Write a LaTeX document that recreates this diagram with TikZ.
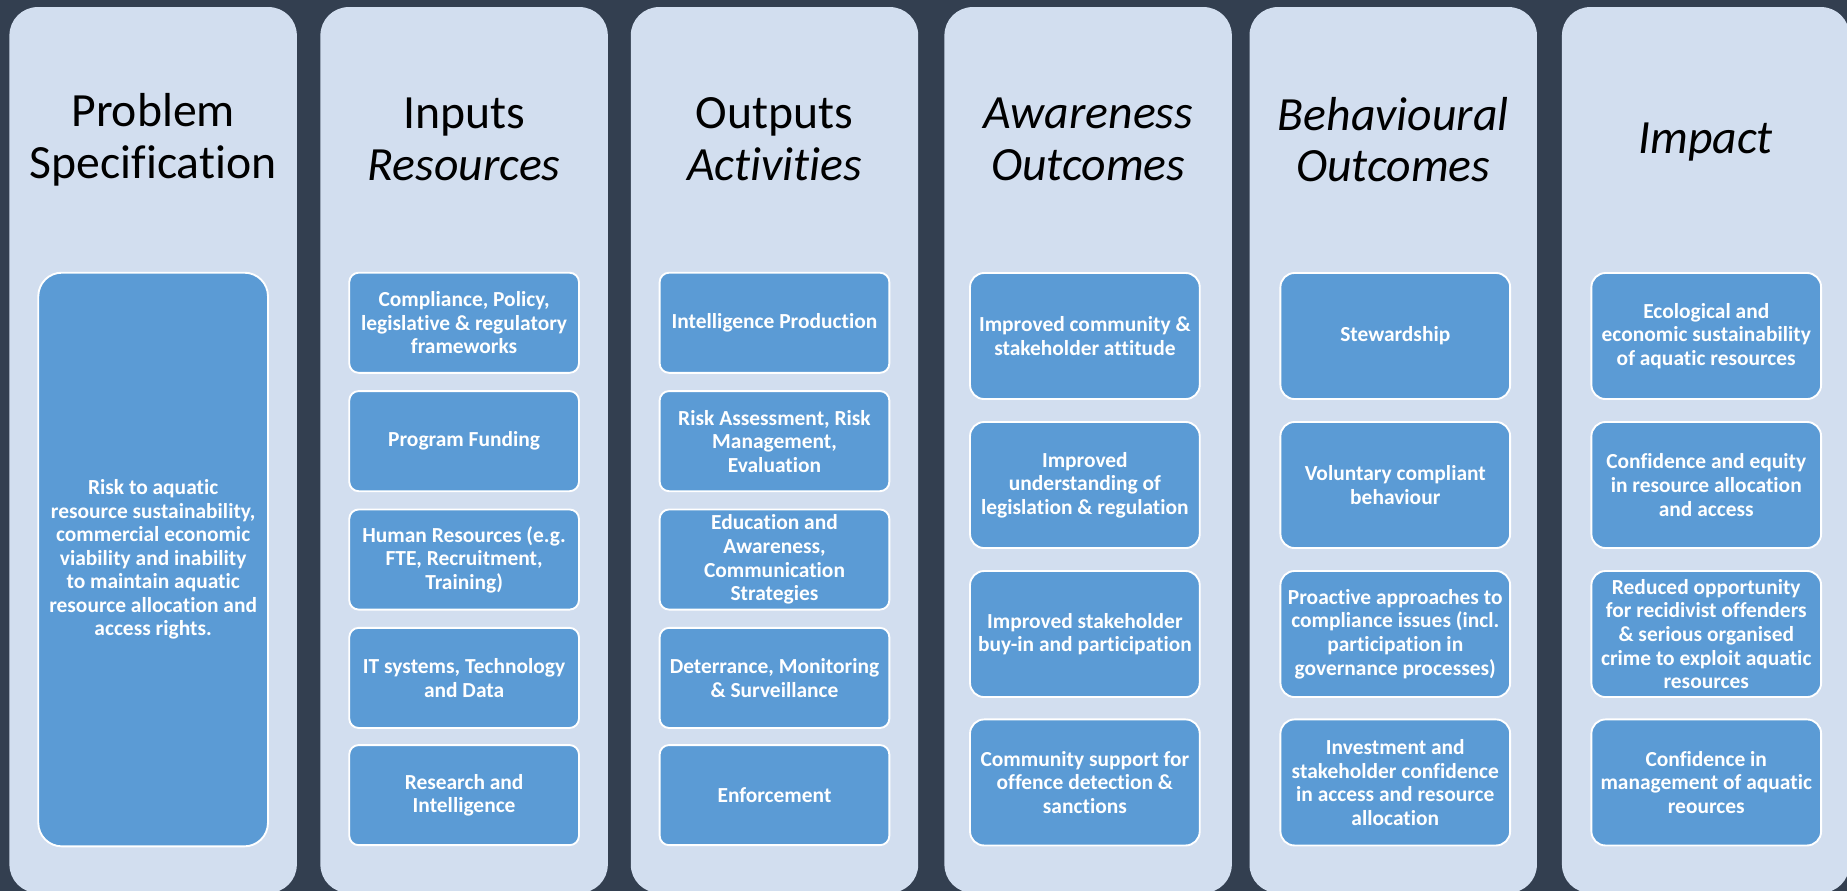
\documentclass[tikz,border=0pt]{standalone}
\usepackage{fontspec}
\setmainfont{Carlito}[Ligatures={NoCommon,NoRequired,NoContextual}]
\definecolor{bgdark}{HTML}{333F50}
\definecolor{colfill}{HTML}{D2DEEF}
\definecolor{boxfill}{HTML}{5B9BD5}
\begin{document}
\begin{tikzpicture}[x=1pt,y=-1pt,
 colbox/.style={fill=colfill, rounded corners=24pt, minimum width=244pt, minimum height=752pt, inner sep=0pt},
 head/.style={align=center, font=\fontsize{40.5}{44}\selectfont, text=black},
 ihead/.style={head, font=\fontsize{40.5}{44}\selectfont\itshape},
 ibox/.style={fill=boxfill, draw=white, line width=1.6pt, align=center, text=white, font=\fontsize{18.2}{20}\selectfont\bfseries, minimum width=195pt, inner sep=0pt},
 sbox/.style={ibox, minimum height=85pt, rounded corners=8pt},
 tbox/.style={ibox, minimum height=107pt, rounded corners=12pt}]
\fill[bgdark] (0,0) rectangle (1568,756);
\useasboundingbox (0,0) rectangle (1568,756);
% columns
\node[colbox] (col1) at (130,382) {};
\node[colbox] (col2) at (394,382) {};
\node[colbox] (col3) at (657.5,382) {};
\node[colbox] (col4) at (923.75,382) {};
\node[colbox] (col5) at (1182.75,382) {};
\node[colbox] (col6) at (1448,382) {};
% headers
\node[head] (h1) at (130,118.5) {Problem\\Specification};
\node[head] (h2) at (394,118.5) {Inputs\\\itshape Resources};
\node[head] (h3) at (657.5,118.5) {Outputs\\\itshape Activities};
\node[ihead] (h4) at (923.75,118.5) {Awareness\\Outcomes};
\node[ihead] (h5) at (1182.75,118.5) {Behavioural\\Outcomes};
\node[ihead] (h6) at (1448,120.5) {Impact};
% column 1
\node[ibox, minimum height=487pt, rounded corners=20pt] (p1) at (130,475) {Risk to aquatic\\resource sustainability,\\commercial economic\\viability and inability\\to maintain aquatic\\resource allocation and\\access rights.};
% column 2
\node[sbox] (i1) at (394,274) {Compliance, Policy,\\legislative \& regulatory\\frameworks};
\node[sbox] (i2) at (394,374.5) {Program Funding};
\node[sbox] (i3) at (394,475) {Human Resources (e.g.\\FTE, Recruitment,\\Training)};
\node[sbox] (i4) at (394,575.5) {IT systems, Technology\\and Data};
\node[sbox] (i5) at (394,675) {Research and\\Intelligence};
% column 3
\node[sbox] (o1) at (657.5,274) {Intelligence Production};
\node[sbox] (o2) at (657.5,374.5) {Risk Assessment, Risk\\Management,\\Evaluation};
\node[sbox] (o3) at (657.5,475) {Education and\\Awareness,\\Communication\\Strategies};
\node[sbox] (o4) at (657.5,575.5) {Deterrance, Monitoring\\\& Surveillance};
\node[sbox] (o5) at (657.5,675) {Enforcement};
% column 4
\node[tbox] (a1) at (921,285.25) {Improved community \&\\stakeholder attitude};
\node[tbox] (a2) at (921,411.75) {Improved\\understanding of\\legislation \& regulation};
\node[tbox] (a3) at (921,538.25) {Improved stakeholder\\buy-in and participation};
\node[tbox] (a4) at (921,664.25) {Community support for\\offence detection \&\\sanctions};
% column 5
\node[tbox] (b1) at (1184.5,285.25) {Stewardship};
\node[tbox] (b2) at (1184.5,411.75) {Voluntary compliant\\behaviour};
\node[tbox] (b3) at (1184.5,538.25) {Proactive approaches to\\compliance issues (incl.\\participation in\\governance processes)};
\node[tbox] (b4) at (1184.5,664.25) {Investment and\\stakeholder confidence\\in access and resource\\allocation};
% column 6
\node[tbox] (m1) at (1448.5,285.25) {Ecological and\\economic sustainability\\of aquatic resources};
\node[tbox] (m2) at (1448.5,411.75) {Confidence and equity\\in resource allocation\\and access};
\node[tbox] (m3) at (1448.5,538.25) {Reduced opportunity\\for recidivist offenders\\\& serious organised\\crime to exploit aquatic\\resources};
\node[tbox] (m4) at (1448.5,664.25) {Confidence in\\management of aquatic\\reources};
\end{tikzpicture}
\end{document}
